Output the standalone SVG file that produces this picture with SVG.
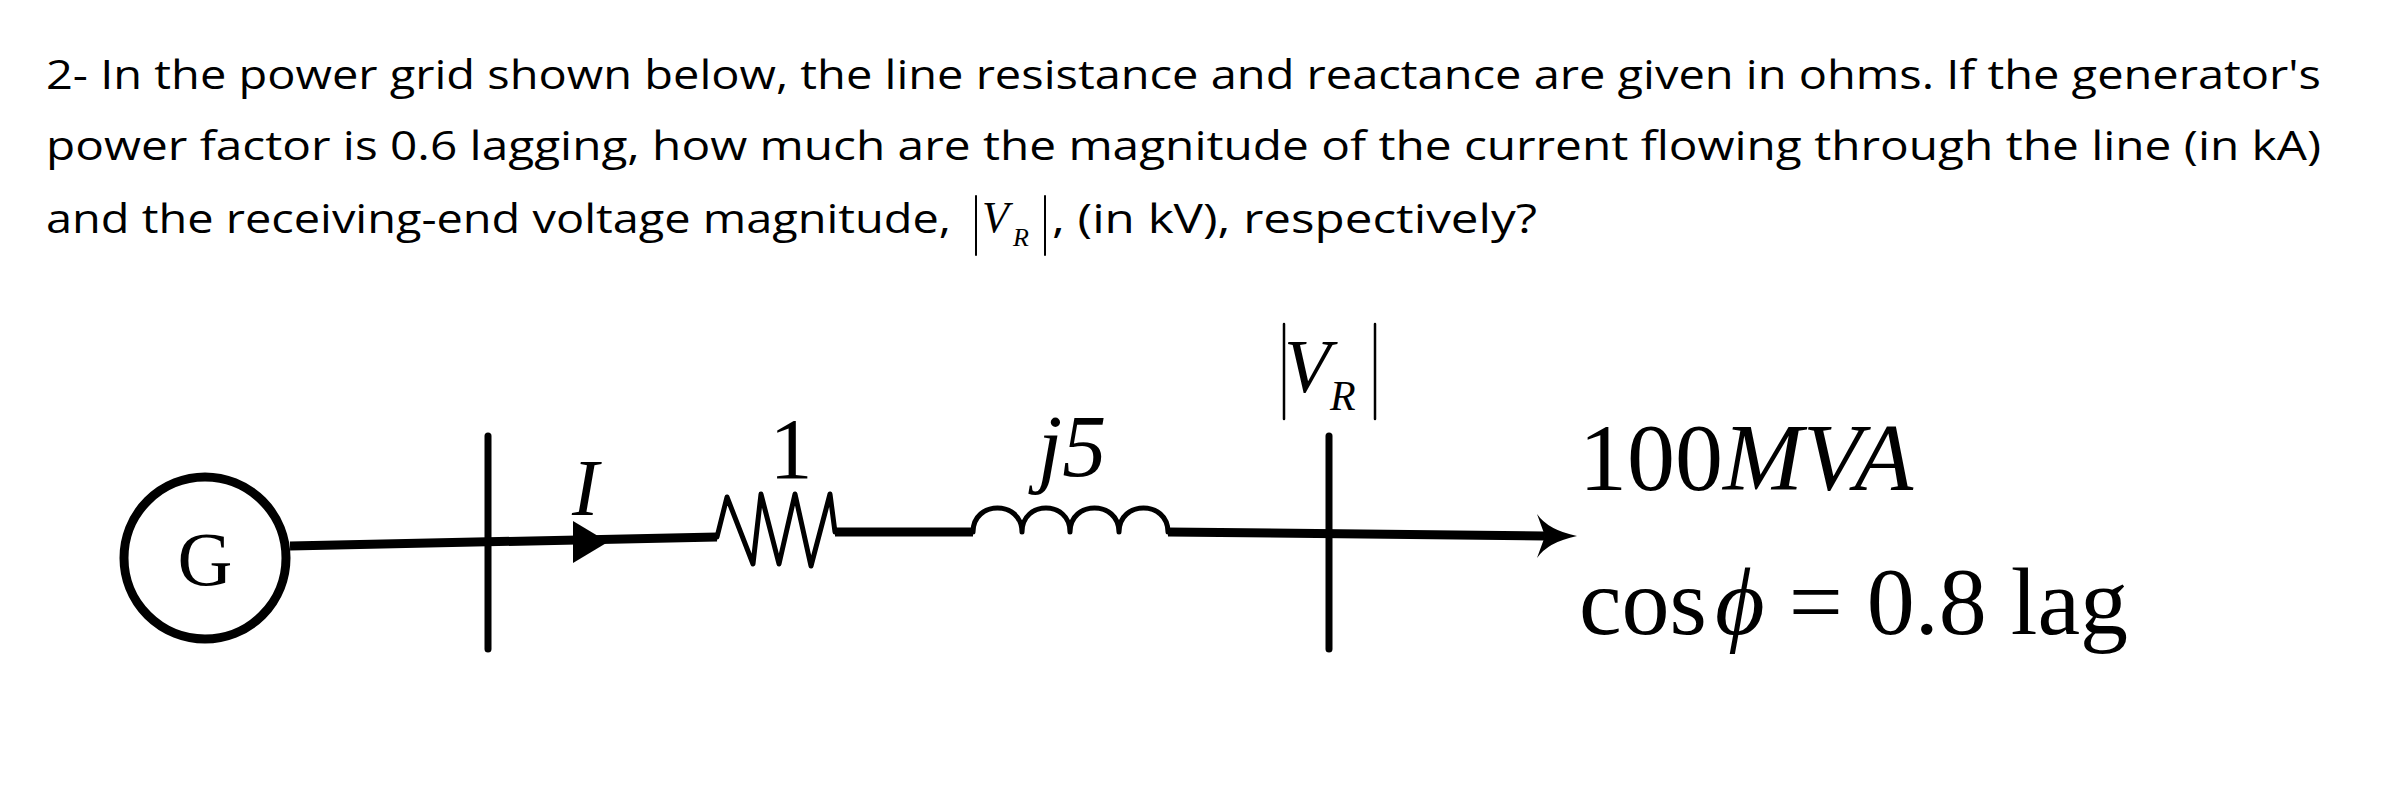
<svg xmlns="http://www.w3.org/2000/svg" width="2388" height="796" viewBox="0 0 2388 796">
<style>
.q{font-family:"Open Sans","Liberation Sans",sans-serif;font-size:40px;fill:#000}
.m{font-family:"Liberation Serif","Times New Roman",serif;fill:#000}
.w{stroke:#000;fill:none;stroke-linecap:round;stroke-linejoin:round}
</style>
<rect width="2388" height="796" fill="#fff"/>
<g id="question">
<text class="q" x="46" y="89" textLength="2275" lengthAdjust="spacingAndGlyphs">2- In the power grid shown below, the line resistance and reactance are given in ohms. If the generator's</text>
<text class="q" x="46" y="160" textLength="2275" lengthAdjust="spacingAndGlyphs">power factor is 0.6 lagging, how much are the magnitude of the current flowing through the line (in kA)</text>
<text class="q" x="46" y="233" textLength="905" lengthAdjust="spacingAndGlyphs">and the receiving-end voltage magnitude,</text>
<line class="w" x1="976" y1="196" x2="976" y2="255" stroke-width="2"/>
<text class="m" x="982" y="232" font-size="44" font-style="italic">V</text>
<text class="m" x="1013" y="246" font-size="26" font-style="italic">R</text>
<line class="w" x1="1045" y1="196" x2="1045" y2="255" stroke-width="2"/>
<text class="q" x="1052" y="233" textLength="485" lengthAdjust="spacingAndGlyphs">, (in kV), respectively?</text>
</g>
<g id="generator">
<circle cx="205" cy="558" r="81" fill="none" stroke="#000" stroke-width="9"/>
<text class="m" x="205" y="585" font-size="76" text-anchor="middle">G</text>
</g>
<g id="bus1"><line class="w" x1="488" y1="436" x2="488" y2="649" stroke-width="7"/></g>
<g id="bus2"><line class="w" x1="1329" y1="436" x2="1329" y2="649" stroke-width="7"/></g>
<g id="resistor">
<polyline class="w" stroke-width="5" points="717,537 727,497 753,564 761,494 779,564 795,494 811,566 830,494 835,532"/>
<text class="m" x="791" y="478" font-size="86" text-anchor="middle">1</text>
</g>
<g id="inductor">
<path class="w" stroke-width="5" d="M973,532 C973,500 1022,500 1022,532 C1022,500 1070,500 1070,532 C1070,500 1119,500 1119,532 C1119,500 1168,500 1168,532"/>
<text class="m" x="1072" y="476" font-size="88" font-style="italic" text-anchor="middle">j5</text>
</g>
<g id="labels">
<text class="m" x="572" y="515" font-size="80" font-style="italic">I</text>
<line class="w" x1="1284" y1="324" x2="1284" y2="419" stroke-width="2.5"/>
<text class="m" x="1284" y="392" font-size="76" font-style="italic">V</text>
<text class="m" x="1330" y="410" font-size="42" font-style="italic">R</text>
<line class="w" x1="1375" y1="324" x2="1375" y2="419" stroke-width="2.5"/>
<text class="m" x="1579" y="490" font-size="96">100<tspan font-style="italic">MVA</tspan></text>
<text class="m" x="1579" y="634" font-size="96">cos<tspan font-style="italic" dx="8">ϕ</tspan> = 0.8 lag</text>
</g>
<g id="connectors">
<path d="M290,546 L717,537" stroke="#000" stroke-width="9" fill="none"/>
<polygon points="573,521 608,542 573,563" fill="#000"/>
<path d="M835,532 L973,532 M1168,532 L1545,536" stroke="#000" stroke-width="9" fill="none"/>
<path d="M1537,514 Q1548,530 1577,536 Q1548,542 1537,558 L1545,536 Z" fill="#000"/>
</g>
</svg>
